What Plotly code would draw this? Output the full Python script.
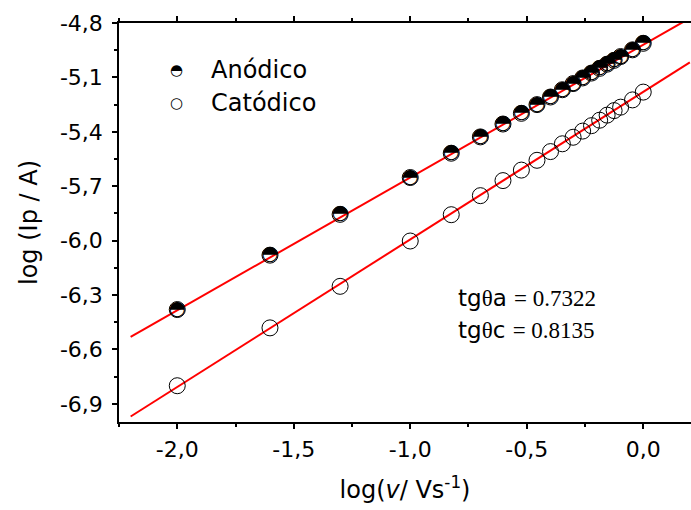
# Log-log plot of peak current vs scan rate, anodic / cathodic with linear fits
import plotly.graph_objects as go

# log(v / V s^-1) for each scan rate
log_v = [-2.0, -1.602, -1.301, -1.0, -0.824, -0.699, -0.602, -0.523, -0.456, -0.398,
         -0.347, -0.301, -0.260, -0.222, -0.187, -0.155, -0.125, -0.097, -0.046, 0.0]

# log(Ip / A)
log_ip_anodic = [-6.38, -6.08, -5.855, -5.652, -5.518, -5.428, -5.357, -5.298, -5.250, -5.208,
                 -5.168, -5.134, -5.103, -5.076, -5.050, -5.027, -5.006, -4.985, -4.948, -4.912]
log_ip_catodic = [-6.800, -6.481, -6.252, -6.002, -5.857, -5.752, -5.669, -5.611, -5.557, -5.509,
                  -5.466, -5.430, -5.396, -5.366, -5.336, -5.308, -5.283, -5.264, -5.224, -5.181]

# linear fits: slope / intercept
slope_a, icpt_a = 0.7322, -4.920
slope_c, icpt_c = 0.8135, -5.180
fit_x = [-2.2, 0.2]

x_tickvals = [-2.0, -1.5, -1.0, -0.5, 0.0]
x_ticktext = ["-2,0", "-1,5", "-1,0", "-0,5", "0,0"]
y_tickvals = [-4.8, -5.1, -5.4, -5.7, -6.0, -6.3, -6.6, -6.9]
y_ticktext = ["-4,8", "-5,1", "-5,4", "-5,7", "-6,0", "-6,3", "-6,6", "-6,9"]

FONT = "DejaVu Sans"
SERIF = "Liberation Serif"
BLACK = "#000000"
RED = "#FF0000"

fig = go.Figure()

# fit lines
fig.add_trace(go.Scatter(x=fit_x, y=[icpt_a + slope_a * x for x in fit_x], mode="lines",
                         line=dict(color=RED, width=2), showlegend=False, hoverinfo="skip"))
fig.add_trace(go.Scatter(x=fit_x, y=[icpt_c + slope_c * x for x in fit_x], mode="lines",
                         line=dict(color=RED, width=2), showlegend=False, hoverinfo="skip"))

# cathodic: open circles
fig.add_trace(go.Scatter(x=log_v, y=log_ip_catodic, mode="markers", name="Catódico",
                         marker=dict(symbol="circle", size=16, color="rgba(255,255,255,0)",
                                     line=dict(color=BLACK, width=1)),
                         showlegend=False))

# anodic: open circle + half-filled glyph on top
fig.add_trace(go.Scatter(x=log_v, y=log_ip_anodic, mode="markers", name="Anódico",
                         marker=dict(symbol="circle", size=16, color="rgba(255,255,255,0)",
                                     line=dict(color=BLACK, width=1)),
                         showlegend=False))
fig.add_trace(go.Scatter(x=log_v, y=log_ip_anodic, mode="text", text=["◓"] * len(log_v),
                         textposition="middle center",
                         textfont=dict(family="DejaVu Sans", size=20, color=BLACK),
                         showlegend=False, hoverinfo="skip"))

# hand-made legend
legend_rows = [("◓", "Anódico", 0.882), ("○", "Catódico", 0.800)]
for glyph, label, yy in legend_rows:
    fig.add_annotation(x=0.101, y=yy, xref="paper", yref="paper", text=glyph, showarrow=False,
                       xanchor="center", yanchor="middle",
                       font=dict(family="DejaVu Sans", size=15, color=BLACK))
    fig.add_annotation(x=0.157, y=yy, xref="paper", yref="paper", text=label, showarrow=False,
                       xanchor="left", yanchor="middle",
                       font=dict(family=FONT, size=24, color=BLACK))

# slopes
slope_rows = [("a", "0.7322", 0.311), ("c", "0.8135", 0.231)]
for sfx, val, yy in slope_rows:
    txt = (f'tg<span style="font-family:{SERIF}">θ</span>{sfx} '
           f'<span style="font-family:{SERIF}">= {val}</span>')
    fig.add_annotation(x=0.59, y=yy, xref="paper", yref="paper", text=txt, showarrow=False,
                       xanchor="left", yanchor="middle",
                       font=dict(family=FONT, size=23, color=BLACK))

fig.update_layout(
    width=691, height=510,
    margin=dict(l=119, r=0, t=23, b=88),
    paper_bgcolor="white", plot_bgcolor="white",
    font=dict(family=FONT, color=BLACK, size=22),
    xaxis=dict(
        range=[-2.25, 0.205], showgrid=False, zeroline=False,
        showline=True, linecolor=BLACK, linewidth=1.5, mirror="allticks",
        ticks="outside", ticklen=5, tickwidth=1.5, tickcolor=BLACK,
        tickvals=x_tickvals, ticktext=x_ticktext, ticklabelstandoff=2,
        minor=dict(dtick=0.25, tick0=0, ticks="outside", ticklen=3, tickcolor=BLACK),
        title=dict(text="log(<i>v</i>/ Vs<sup>-1</sup>)", font=dict(size=24), standoff=20),
    ),
    yaxis=dict(
        range=[-7.0, -4.8], showgrid=False, zeroline=False,
        showline=True, linecolor=BLACK, linewidth=1.5,
        ticks="outside", ticklen=5, tickwidth=1.5, tickcolor=BLACK,
        tickvals=y_tickvals, ticktext=y_ticktext, ticklabelstandoff=5,
        minor=dict(dtick=0.15, tick0=-4.8, ticks="outside", ticklen=3, tickcolor=BLACK),
        title=dict(text="log (Ip / A)", font=dict(size=24), standoff=16),
    ),
)

# drop the default page margin so the figure sits at the window's top-left corner
fig.write_html("out.html", config={"displayModeBar": False},
               post_script="document.body.style.margin='0';")
